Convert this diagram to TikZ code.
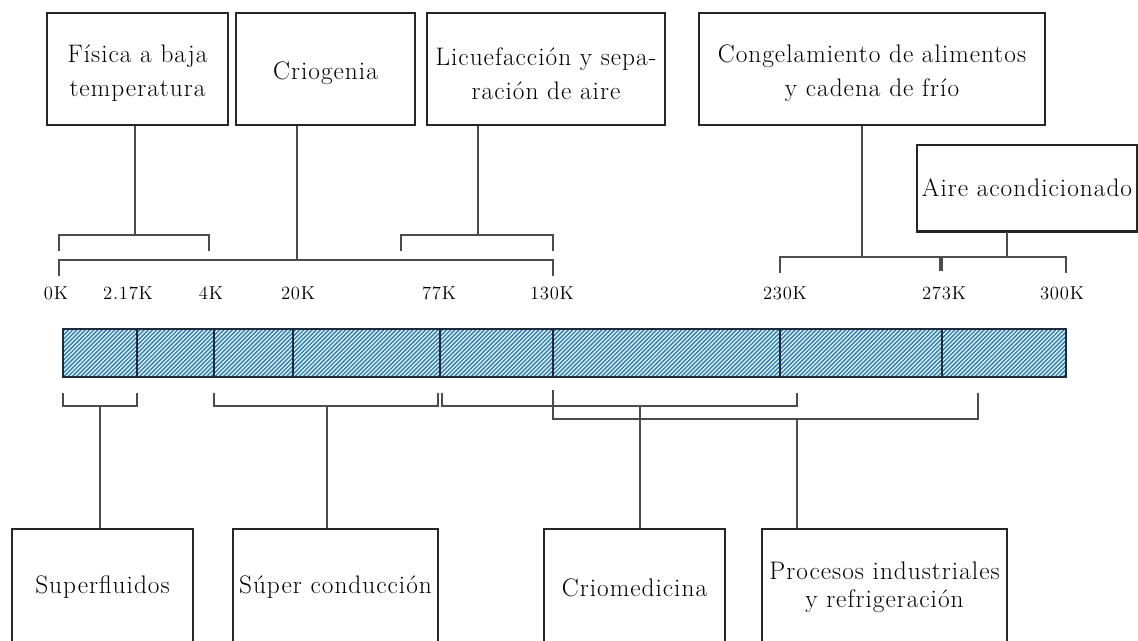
\documentclass[tikz,border=0pt]{standalone}
\usepackage{fontspec}
\newfontfamily\spacedfont{Latin Modern Roman}[LetterSpace=4]
\definecolor{barbg}{HTML}{CDEDF7}
\definecolor{hatchcol}{HTML}{3477A0}
\definecolor{barline}{HTML}{1E2A3A}
\begin{document}
\begin{tikzpicture}[x=0.75pt,y=-0.75pt,
  box/.style={draw=black!85, line width=1.1pt, fill=white, inner sep=0pt},
  toptext/.style={align=center, font=\spacedfont\fontsize{19}{25.5}\selectfont},
  bottext/.style={align=center, font=\spacedfont\fontsize{19}{21}\selectfont},
  conn/.style={draw=black!70, line width=1.1pt},
  scalelbl/.style={font=\spacedfont\fontsize{14}{16}\selectfont, inner sep=0pt},
  hatch/.style={draw=hatchcol, line width=0.9pt},
  seg/.style={draw=barline, line width=1pt}]
\useasboundingbox (0,0) rectangle (1138,640);

% ---- upper boxes ----
\node[box, minimum width=135.75pt, minimum height=84pt,
  label={[toptext, yshift=-3.4pt]center:{Física a baja\\temperatura}}] (fis) at (137.5,69) {};
\node[box, minimum width=134.25pt, minimum height=84pt,
  label={[toptext, yshift=-3.4pt]center:Criogenia}] (crio) at (325.5,69) {};
\node[box, minimum width=178.5pt, minimum height=84pt,
  label={[toptext, yshift=-3.4pt]center:{Licuefacción y sepa-\\ración de aire}}] (licu) at (546,69) {};
\node[box, minimum width=259.5pt, minimum height=84pt,
  label={[toptext, yshift=-3.4pt]center:{Congelamiento de alimentos\\y cadena de frío}}] (cong) at (872,69) {};
\node[box, minimum width=165pt, minimum height=64.5pt,
  label={[toptext]center:Aire acondicionado}] (aire) at (1027,188) {};
\draw[black!85, line width=2pt] (aire.south west) -- (aire.south east);

% ---- upper brackets and scale ----
\coordinate (jFis) at (135,235);
\coordinate (jCrio) at (297,260);
\coordinate (jLicu) at (478,235);
\coordinate (jCong) at (862,257);
\coordinate (jAire) at (1007,257);

\draw[conn] (59,251) -- (59,235) -- (209,235) -- (209,251);
\draw[conn] (401,251) -- (401,235) -- (553,235) -- (553,251);
\draw[conn] (59,276) -- (59,260) -- (553,260) -- (553,276);
\draw[conn] (780,273) -- (780,257) -- (1066,257) -- (1066,273);
\draw[conn, line width=2.4pt] (941,257) -- (941,271);

\draw[conn] (jFis |- fis.south) -- (jFis);
\draw[conn] (jCrio |- crio.south) -- (jCrio);
\draw[conn] (jLicu |- licu.south) -- (jLicu);
\draw[conn] (jCong |- cong.south) -- (jCong);
\draw[conn] (aire.south -| jAire) -- (jAire);

% ---- temperature labels ----
\node[scalelbl] (t0)   at (56,293)   {0K};
\node[scalelbl] (t217) at (128,293)  {2.17K};
\node[scalelbl] (t4)   at (211,293)  {4K};
\node[scalelbl] (t20)  at (298,293)  {20K};
\node[scalelbl] (t77)  at (439,293)  {77K};
\node[scalelbl] (t130) at (552,293)  {130K};
\node[scalelbl] (t230) at (785,293)  {230K};
\node[scalelbl] (t273) at (944,293)  {273K};
\node[scalelbl] (t300) at (1062,293) {300K};

% ---- hatched temperature bar ----
\begin{scope}
  \clip (63,329) rectangle (1066,377);
  \fill[barbg] (63,329) rectangle (1066,377);
  \foreach \i in {0,...,252}
    \draw[hatch] ({13+4.2*\i},377) -- ({61+4.2*\i},329);
\end{scope}
\draw[seg] (63,329) rectangle (1066,377);
\foreach \x in {137,214,293,440,553,780,942}
  \draw[seg] (\x,329) -- (\x,377);

% ---- lower boxes ----
\node[box, minimum width=135.75pt, minimum height=87.75pt,
  label={[bottext]center:Superfluidos}] (sup) at (102.5,587.5) {};
\node[box, minimum width=153.75pt, minimum height=87.75pt,
  label={[bottext]center:Súper conducción}] (scon) at (335.5,587.5) {};
\node[box, minimum width=135.75pt, minimum height=87.75pt,
  label={[bottext]center:Criomedicina}] (cmed) at (634.5,587.5) {};
\node[box, minimum width=183.75pt, minimum height=87.75pt,
  label={[bottext]center:{Procesos industriales\\y refrigeración}}] (proc) at (884.5,587.5) {};

% ---- lower brackets ----
\coordinate (jSup) at (100,406);
\coordinate (jScon) at (327,406);
\coordinate (jCmed) at (640,406);
\coordinate (jProc) at (797,419);

\draw[conn] (63,393) -- (63,406) -- (137,406) -- (137,393);
\draw[conn] (214,393) -- (214,406) -- (438,406) -- (438,393);
\draw[conn] (442,393) -- (442,406) -- (797,406) -- (797,393);
\draw[conn] (553,390) -- (553,419) -- (978,419) -- (978,393);

\draw[conn] (jSup) -- (jSup |- sup.north);
\draw[conn] (jScon) -- (jScon |- scon.north);
\draw[conn] (jCmed) -- (jCmed |- cmed.north);
\draw[conn] (jProc) -- (jProc |- proc.north);
\end{tikzpicture}
\end{document}
